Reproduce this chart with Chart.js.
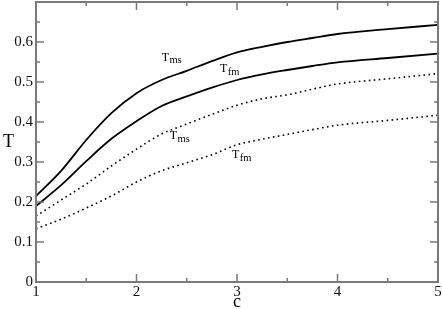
<!DOCTYPE html>
<html>
<head>
<meta charset="utf-8">
<script src="https://cdn.jsdelivr.net/npm/chart.js@4"></script>
<style>
  body { margin: 0; background: #fff; }
  canvas { display: block; }
</style>
</head>
<body>
<canvas id="tChart" width="442" height="309"></canvas>
<script>
// values
const cValues = [1, 1.25, 1.5, 1.75, 2, 2.25, 2.5, 2.75, 3, 3.25, 3.5, 3.75, 4, 4.5, 5];
const tmsSolid = [0.215, 0.278, 0.355, 0.422, 0.472, 0.505, 0.528, 0.552, 0.574, 0.588, 0.600, 0.610, 0.620, 0.632, 0.643];
const tfmSolid = [0.190, 0.242, 0.302, 0.358, 0.402, 0.440, 0.464, 0.486, 0.505, 0.519, 0.530, 0.540, 0.549, 0.560, 0.571];
const tmsDotted = [0.165, 0.205, 0.245, 0.290, 0.332, 0.370, 0.395, 0.419, 0.442, 0.458, 0.468, 0.482, 0.495, 0.508, 0.521];
const tfmDotted = [0.133, 0.157, 0.185, 0.215, 0.250, 0.278, 0.298, 0.318, 0.343, 0.357, 0.369, 0.381, 0.392, 0.404, 0.417];

// curve labels: [c, T] position of the label, main letter, subscript
const curveLabels = [
  { c: 2.25, t: 0.553, sub: 'ms' },
  { c: 2.83, t: 0.524, sub: 'fm' },
  { c: 2.33, t: 0.357, sub: 'ms' },
  { c: 2.95, t: 0.309, sub: 'fm' }
];

const xTitle = 'c';
const yTitle = 'T';

const serif = "'Liberation Serif', 'DejaVu Serif', serif";
const axisGray = '#7a7a7a';

function pts(ys) {
  return cValues.map((c, i) => ({ x: c, y: ys[i] }));
}

function lineSet(label, ys, dotted) {
  return {
    label: label,
    data: pts(ys),
    borderColor: '#000',
    borderWidth: dotted ? 1.6 : 1.8,
    borderDash: dotted ? [1.6, 3.4] : [],
    pointRadius: 0,
    fill: false,
    cubicInterpolationMode: 'monotone'
  };
}

// frame, inward ticks, axis titles and curve labels
const framePlugin = {
  id: 'frame',
  afterDraw(chart) {
    const ctx = chart.ctx;
    const a = chart.chartArea;
    const xs = chart.scales.x;
    const ys = chart.scales.y;
    ctx.save();
    ctx.strokeStyle = axisGray;
    ctx.lineWidth = 1.5;
    xs.ticks.forEach(tk => {
      const px = xs.getPixelForValue(tk.value);
      const len = tk.label !== '' ? 8 : 4;
      ctx.beginPath();
      ctx.moveTo(px, a.bottom); ctx.lineTo(px, a.bottom - len);
      ctx.moveTo(px, a.top); ctx.lineTo(px, a.top + len);
      ctx.stroke();
    });
    ys.ticks.forEach(tk => {
      const py = ys.getPixelForValue(tk.value);
      const len = tk.label !== '' ? 8 : 4;
      ctx.beginPath();
      ctx.moveTo(a.left, py); ctx.lineTo(a.left + len, py);
      ctx.moveTo(a.right, py); ctx.lineTo(a.right - len, py);
      ctx.stroke();
    });
    ctx.lineWidth = 2;
    ctx.strokeRect(a.left, a.top, a.right - a.left, a.bottom - a.top);

    ctx.fillStyle = '#000';
    ctx.textBaseline = 'alphabetic';
    ctx.font = '18px ' + serif;
    ctx.textAlign = 'left';
    ctx.fillText(yTitle, 3, 147);
    ctx.textAlign = 'center';
    ctx.fillText(xTitle, (a.left + a.right) / 2, 307);

    ctx.textAlign = 'left';
    curveLabels.forEach(l => {
      const px = xs.getPixelForValue(l.c);
      const py = ys.getPixelForValue(l.t);
      ctx.font = '12px ' + serif;
      ctx.fillText('T', px, py);
      const w = ctx.measureText('T').width;
      ctx.font = '10.5px ' + serif;
      ctx.fillText(l.sub, px + w + 0.5, py + 2.5);
    });
    ctx.restore();
  }
};

const ctx = document.getElementById('tChart').getContext('2d');

new Chart(ctx, {
  type: 'line',
  data: {
    datasets: [
      lineSet('Tms', tmsSolid, false),
      lineSet('Tfm', tfmSolid, false),
      lineSet('Tms (dotted)', tmsDotted, true),
      lineSet('Tfm (dotted)', tfmDotted, true)
    ]
  },
  options: {
    responsive: false,
    animation: false,
    layout: { padding: { top: 2, right: 4, left: 0, bottom: 0 } },
    plugins: {
      legend: { display: false },
      tooltip: { enabled: false }
    },
    scales: {
      x: {
        type: 'linear',
        min: 1,
        max: 5,
        grid: { display: false, drawTicks: false },
        border: { display: false },
        afterFit(scale) {
          scale.height = 27;
          scale.paddingLeft = 0;
          scale.paddingRight = 0;
        },
        ticks: {
          stepSize: 0.5,
          autoSkip: false,
          maxRotation: 0,
          padding: 1,
          color: '#111',
          font: { family: serif, size: 15 },
          callback: v => Number.isInteger(v) ? String(v) : ''
        }
      },
      y: {
        min: 0,
        max: 0.7,
        grid: { display: false, drawTicks: false },
        border: { display: false },
        afterFit(scale) {
          scale.width = 36;
          scale.paddingTop = 0;
          scale.paddingBottom = 0;
        },
        ticks: {
          stepSize: 0.05,
          autoSkip: false,
          padding: 3,
          color: '#111',
          font: { family: serif, size: 15 },
          callback: v => {
            const r = Math.round(v * 10);
            if (Math.abs(v * 10 - r) > 1e-6 || r >= 7) return '';
            return r === 0 ? '0' : (r / 10).toFixed(1);
          }
        }
      }
    }
  },
  plugins: [framePlugin]
});
</script>
</body>
</html>
